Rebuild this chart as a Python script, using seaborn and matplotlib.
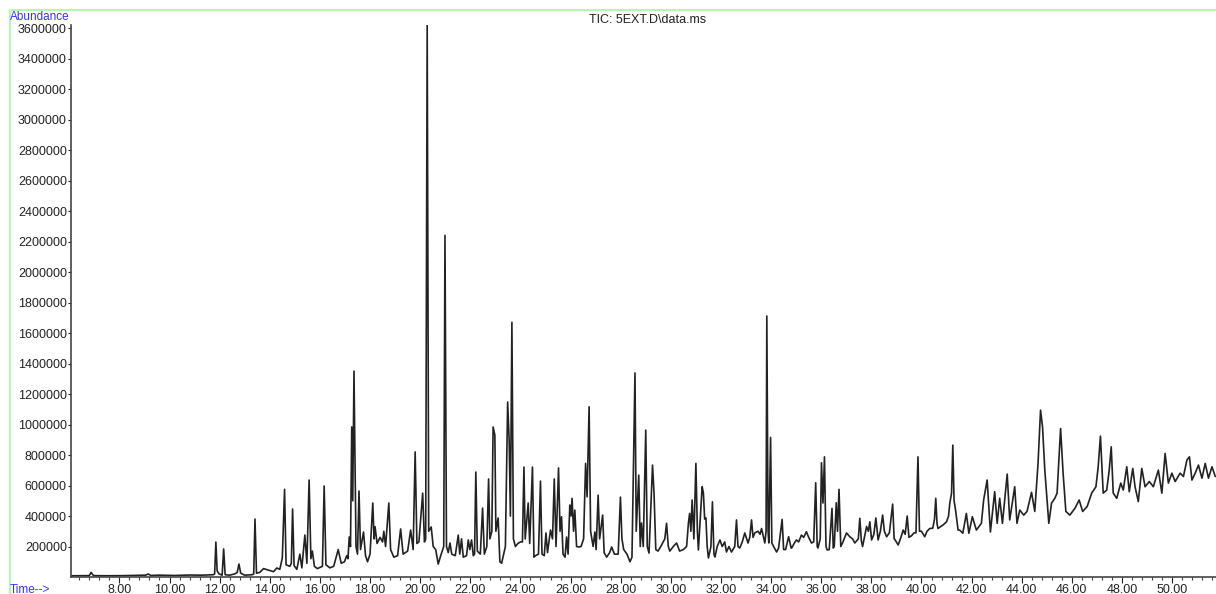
import matplotlib
matplotlib.use("Agg")
import matplotlib.pyplot as plt
import seaborn as sns
import pandas as pd
from matplotlib.ticker import MultipleLocator
from matplotlib.lines import Line2D

# TIC trace (retention time in min, abundance)
rt = [
    6.10, 6.80, 6.87, 6.97, 7.50, 8.20, 9.05, 9.15, 9.25, 9.60, 10.20, 10.80, 11.30, 11.75,
    11.80, 11.85, 11.90, 11.98, 12.10, 12.16, 12.22, 12.40, 12.60, 12.70, 12.77, 12.84,
    13.00, 13.30, 13.36, 13.41, 13.47, 13.60, 13.75, 13.95, 14.15, 14.28, 14.40,
    14.50, 14.59, 14.65, 14.80, 14.86, 14.91, 14.97, 15.08, 15.20, 15.28, 15.40, 15.48,
    15.57, 15.64, 15.70, 15.78, 15.90, 16.10, 16.17, 16.24, 16.40, 16.55, 16.73, 16.85,
    16.98, 17.07, 17.12, 17.17, 17.22, 17.27, 17.31, 17.36, 17.44, 17.50, 17.56, 17.62,
    17.74, 17.82, 17.90, 18.00, 18.11, 18.16, 18.20, 18.28, 18.40, 18.50, 18.55, 18.62,
    18.75, 18.82, 18.95, 19.10, 19.22, 19.32, 19.50, 19.62, 19.72, 19.80, 19.87, 19.95,
    20.10, 20.17, 20.22, 20.28, 20.34, 20.44, 20.52, 20.62, 20.72, 20.82, 20.94, 20.99,
    21.05, 21.12, 21.19, 21.26, 21.40, 21.52, 21.58, 21.65, 21.72, 21.85, 21.92, 21.98,
    22.05, 22.12, 22.17, 22.22, 22.28, 22.40, 22.49, 22.56, 22.66, 22.73, 22.78, 22.86,
    22.91, 22.98, 23.02, 23.11, 23.18, 23.25, 23.40, 23.49, 23.55, 23.60, 23.66, 23.72,
    23.80, 23.90, 24.00, 24.08, 24.14, 24.19, 24.31, 24.37, 24.48, 24.54, 24.60, 24.72,
    24.80, 24.86, 24.95, 25.02, 25.08, 25.20, 25.28, 25.35, 25.42, 25.52, 25.58, 25.64,
    25.70, 25.78, 25.84, 25.90, 25.97, 26.02, 26.06, 26.12, 26.17, 26.24, 26.33, 26.42,
    26.52, 26.60, 26.66, 26.74, 26.80, 26.90, 26.97, 27.02, 27.10, 27.16, 27.28, 27.34,
    27.44, 27.56, 27.64, 27.75, 27.90, 27.99, 28.05, 28.12, 28.25, 28.37, 28.45, 28.57,
    28.62, 28.72, 28.78, 28.83, 28.90, 29.00, 29.06, 29.13, 29.27, 29.33, 29.40, 29.49,
    29.60, 29.76, 29.83, 29.90, 29.96, 30.10, 30.23, 30.35, 30.50, 30.63, 30.70, 30.75,
    30.80, 30.85, 30.92, 31.00, 31.06, 31.10, 31.25, 31.30, 31.35, 31.40, 31.45, 31.50,
    31.60, 31.66, 31.72, 31.76, 31.85, 31.96, 32.05, 32.15, 32.22, 32.32, 32.42, 32.55,
    32.62, 32.68, 32.75, 32.85, 32.95, 33.08, 33.15, 33.22, 33.28, 33.35, 33.48, 33.56,
    33.62, 33.75, 33.80, 33.83, 33.88, 33.91, 33.98, 34.03, 34.10, 34.22, 34.30, 34.44,
    34.50, 34.58, 34.70, 34.80, 34.82, 34.92, 35.01, 35.10, 35.21, 35.30, 35.41, 35.50,
    35.61, 35.70, 35.78, 35.84, 35.87, 35.96, 36.01, 36.07, 36.13, 36.19, 36.24, 36.32,
    36.43, 36.48, 36.52, 36.60, 36.65, 36.71, 36.78, 36.85, 37.01, 37.14, 37.25, 37.34,
    37.48, 37.54, 37.60, 37.65, 37.75, 37.81, 37.88, 37.94, 38.01, 38.10, 38.18, 38.27,
    38.36, 38.45, 38.52, 38.61, 38.72, 38.85, 38.91, 38.95, 39.07, 39.18, 39.27, 39.35,
    39.43, 39.50, 39.60, 39.70, 39.78, 39.86, 39.92, 40.00, 40.13, 40.22, 40.33, 40.45,
    40.52, 40.57, 40.62, 40.66, 40.76, 40.86, 41.00, 41.08, 41.13, 41.20, 41.25, 41.30,
    41.36, 41.46, 41.52, 41.65, 41.79, 41.89, 42.03, 42.19, 42.39, 42.48, 42.62, 42.75,
    42.92, 43.02, 43.12, 43.23, 43.42, 43.52, 43.72, 43.81, 43.92, 44.08, 44.21, 44.39,
    44.52, 44.65, 44.75, 44.83, 44.92, 45.08, 45.19, 45.32, 45.41, 45.55, 45.65, 45.76,
    45.92, 46.12, 46.29, 46.43, 46.61, 46.79, 46.96, 47.05, 47.14, 47.25, 47.39, 47.49,
    47.57, 47.65, 47.79, 47.95, 48.05, 48.19, 48.29, 48.43, 48.52, 48.65, 48.79, 48.92,
    49.09, 49.25, 49.45, 49.59, 49.72, 49.85, 49.99, 50.12, 50.32, 50.45, 50.59, 50.69,
    50.79, 50.92, 51.05, 51.19, 51.32, 51.45, 51.59, 51.72,
]
abundance = [
    8000, 9000, 30000, 9000, 8000, 9000, 12000, 20000, 10000, 12000, 10000, 13000, 12000, 15000,
    20000, 229000, 40000, 20000, 12000, 184000, 15000, 12000, 20000, 30000, 85000, 25000,
    12000, 15000, 20000, 380000, 25000, 30000, 55000, 45000, 35000, 59000, 50000,
    125000, 575000, 80000, 70000, 90000, 446000, 75000, 50000, 150000, 60000, 275000, 90000,
    636000, 120000, 170000, 70000, 55000, 70000, 597000, 80000, 60000, 70000, 180000, 90000,
    100000, 140000, 120000, 262000, 200000, 984000, 500000, 1350000, 200000, 150000, 564000, 180000,
    295000, 140000, 100000, 150000, 485000, 250000, 330000, 220000, 260000, 230000, 300000, 200000,
    485000, 180000, 130000, 140000, 315000, 150000, 170000, 308000, 180000, 820000, 220000, 230000,
    550000, 230000, 250000, 3620000, 300000, 328000, 200000, 180000, 85000, 140000, 200000, 2240000,
    200000, 160000, 223000, 150000, 140000, 275000, 150000, 250000, 130000, 140000, 243000, 180000,
    243000, 140000, 150000, 688000, 170000, 150000, 452000, 150000, 200000, 643000, 250000, 300000,
    984000, 930000, 300000, 387000, 100000, 90000, 200000, 1148000, 900000, 400000, 1670000, 250000,
    200000, 220000, 230000, 230000, 721000, 250000, 485000, 220000, 721000, 130000, 140000, 150000,
    629000, 150000, 140000, 289000, 160000, 308000, 250000, 643000, 200000, 715000, 300000, 395000,
    150000, 130000, 262000, 150000, 472000, 400000, 516000, 300000, 439000, 200000, 197000, 200000,
    250000, 745000, 526000, 1116000, 300000, 200000, 295000, 180000, 537000, 250000, 406000, 160000,
    130000, 160000, 197000, 150000, 150000, 524000, 250000, 180000, 150000, 100000, 130000, 1338000,
    300000, 668000, 200000, 354000, 200000, 963000, 200000, 157000, 734000, 550000, 180000, 170000,
    200000, 250000, 352000, 200000, 170000, 200000, 223000, 170000, 180000, 200000, 350000, 417000,
    300000, 505000, 250000, 745000, 300000, 177000, 592000, 550000, 380000, 387000, 200000, 125000,
    200000, 493000, 150000, 131000, 200000, 243000, 200000, 230000, 164000, 200000, 164000, 200000,
    374000, 200000, 190000, 230000, 289000, 223000, 260000, 374000, 260000, 289000, 300000, 280000,
    318000, 223000, 300000, 1711000, 300000, 223000, 915000, 223000, 200000, 164000, 190000, 378000,
    180000, 180000, 264000, 190000, 190000, 220000, 243000, 230000, 275000, 260000, 297000, 260000,
    223000, 230000, 618000, 200000, 190000, 250000, 749000, 485000, 788000, 200000, 177000, 180000,
    450000, 190000, 200000, 487000, 300000, 575000, 200000, 223000, 289000, 264000, 250000, 223000,
    250000, 385000, 240000, 200000, 280000, 331000, 300000, 362000, 243000, 280000, 387000, 243000,
    300000, 406000, 300000, 264000, 290000, 478000, 250000, 243000, 210000, 260000, 308000, 280000,
    400000, 260000, 270000, 289000, 290000, 788000, 300000, 300000, 264000, 300000, 318000, 320000,
    380000, 516000, 350000, 318000, 330000, 341000, 362000, 400000, 485000, 550000, 865000, 500000,
    439000, 308000, 308000, 287000, 417000, 287000, 395000, 308000, 352000, 505000, 636000, 295000,
    559000, 352000, 516000, 352000, 675000, 374000, 592000, 352000, 439000, 406000, 430000, 555000,
    430000, 745000, 1094000, 984000, 701000, 352000, 485000, 516000, 550000, 974000, 681000, 430000,
    406000, 450000, 505000, 430000, 462000, 550000, 592000, 723000, 924000, 550000, 570000, 701000,
    854000, 550000, 516000, 616000, 570000, 723000, 559000, 712000, 592000, 495000, 712000, 592000,
    626000, 592000, 701000, 550000, 810000, 616000, 681000, 626000, 681000, 659000, 767000, 788000,
    636000, 681000, 734000, 648000, 745000, 648000, 723000, 659000,
]

x_major = list(range(8, 51, 2))
y_ticks = list(range(200000, 3600001, 200000))
title = "TIC: 5EXT.D\\data.ms"

df = pd.DataFrame({"time": rt, "abundance": abundance})

sns.set_style("ticks")
plt.rcParams["font.family"] = ["Liberation Sans", "DejaVu Sans"]

W, H = 1216, 594
fig = plt.figure(figsize=(W / 100, H / 100), dpi=100)
ax = fig.add_axes([71 / W, 17 / H, 1 - 71 / W, (577 - 25) / H])

sns.lineplot(data=df, x="time", y="abundance", ax=ax, color="#222222",
             linewidth=1.2, estimator=None)

ax.set_xlim(6.07, 51.75)
ax.set_ylim(0, 3.62e6)
ax.set_xlabel("")
ax.set_ylabel("")

for side in ["top", "right"]:
    ax.spines[side].set_visible(False)
for side in ["left", "bottom"]:
    ax.spines[side].set_color("#444444")
    ax.spines[side].set_linewidth(1.2)

ax.set_xticks(x_major)
ax.set_xticklabels([f"{v:.2f}" for v in x_major])
ax.xaxis.set_minor_locator(MultipleLocator(0.4))
ax.set_yticks(y_ticks)
ax.set_yticklabels([str(v) for v in y_ticks])
ax.tick_params(axis="both", which="major", labelsize=9, colors="#222222",
               length=4, width=0.8, pad=1)
ax.tick_params(axis="y", length=2)
ax.tick_params(axis="x", which="minor", length=2.5, width=0.8, colors="#444444")

fig.text(648 / W, 1 - 20 / H, title, ha="center", va="center", fontsize=9, color="#222222")
fig.text(10 / W, 1 - 17 / H, "Abundance", ha="left", va="center", fontsize=8.5, color="#3333ff")
fig.text(10 / W, 1 - 590 / H, "Time-->", ha="left", va="center", fontsize=8.5, color="#3333ff")

# light green frame of the instrument report
fig.add_artist(Line2D([10 / W, 1], [1 - 10 / H, 1 - 10 / H], color="#b5f5b5", lw=1.5))
fig.add_artist(Line2D([10 / W, 10 / W], [0, 1 - 10 / H], color="#b5f5b5", lw=1.5))

fig.savefig("out.png", dpi=100)
